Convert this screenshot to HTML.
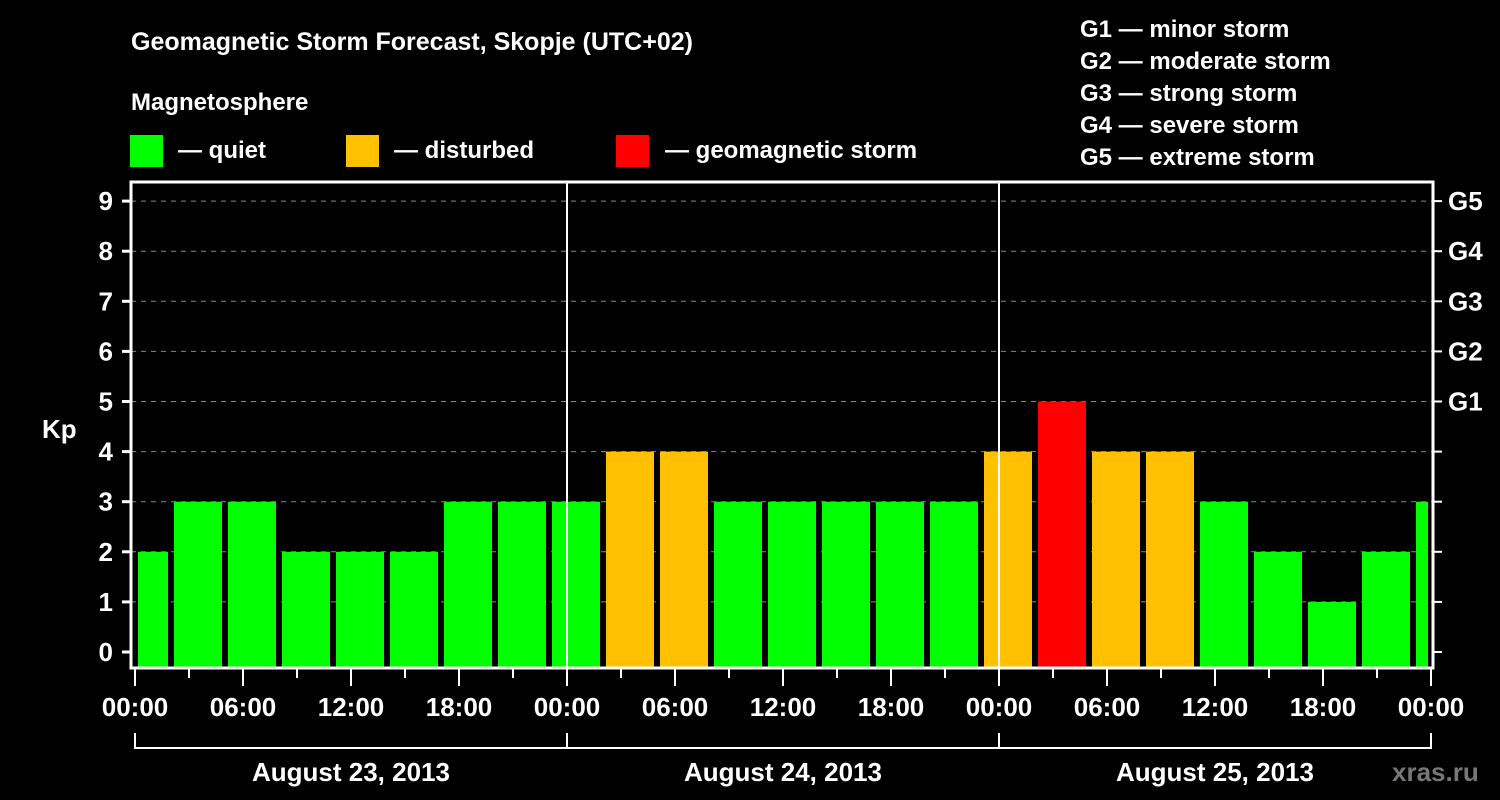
<!DOCTYPE html>
<html><head><meta charset="utf-8"><style>
body{margin:0;background:#000;width:1500px;height:800px;overflow:hidden}
svg{display:block;font-family:"Liberation Sans",sans-serif;font-weight:bold;fill:#fff}
</style></head><body>
<svg id="c" width="1500" height="800" viewBox="0 0 1500 800">
<rect width="1500" height="800" fill="#000"/>
<text x="131" y="50" font-size="25">Geomagnetic Storm Forecast, Skopje (UTC+02)</text>
<text x="131" y="110" font-size="24">Magnetosphere</text>
<g><rect x="130" y="135" width="33" height="32" fill="#00ff00"/><text x="178" y="158" font-size="24">— quiet</text></g>
<g><rect x="346" y="135" width="33" height="32" fill="#ffc000"/><text x="394" y="158" font-size="24">— disturbed</text></g>
<g><rect x="616" y="135" width="33" height="32" fill="#ff0000"/><text x="665" y="158" font-size="24">— geomagnetic storm</text></g>
<g font-size="24">
<text x="1080" y="37">G1 — minor storm</text>
<text x="1080" y="69">G2 — moderate storm</text>
<text x="1080" y="101">G3 — strong storm</text>
<text x="1080" y="133">G4 — severe storm</text>
<text x="1080" y="165">G5 — extreme storm</text>
</g>
<text x="42" y="438" font-size="26">Kp</text>
<text x="1392" y="781" font-size="26" fill="#777" style="fill:#777">xras.ru</text>
<g id="plot"></g>
</svg>
<script>
const kpValues=[2,3,3,2,2,2,3,3,3,4,4,3,3,3,3,3,4,5,4,4,3,2,1,2,3];
const barStartHours=[-1,2,5,8,11,14,17,20,23,26,29,32,35,38,41,44,47,50,53,56,59,62,65,68,71];
const yTicks=[0,1,2,3,4,5,6,7,8,9];
const gLabels=["G1","G2","G3","G4","G5"];
const timeLabels=["00:00","06:00","12:00","18:00","00:00","06:00","12:00","18:00","00:00","06:00","12:00","18:00","00:00"];
const dateLabels=["August 23, 2013","August 24, 2013","August 25, 2013"];
const NS="http://www.w3.org/2000/svg";
const L=131,R=1433,T=182,B=668;
const X=h=>135+h*18;
const Y=v=>652-v*50.1;
const g=document.getElementById('plot');
function mk(t,a,p){const e=document.createElementNS(NS,t);for(const k in a)e.setAttribute(k,a[k]);(p||g).appendChild(e);return e;}
function col(v){return v>=5?'#ff0000':v>=4?'#ffc000':'#00ff00';}
yTicks.forEach(v=>{if(v>0){const l=mk('line',{x1:L,x2:R,y1:Y(v),y2:Y(v),stroke:'#888','stroke-dasharray':'5,5'});

}});
barStartHours.forEach((s,i)=>{const x0=Math.max(X(s),X(0))+3,x1=Math.min(X(s+3),X(72))-3;
const r=mk('rect',{x:x0,y:Y(kpValues[i]),width:x1-x0,height:B-Y(kpValues[i]),fill:col(kpValues[i])});

});
[24,48].forEach(h=>{const l=mk('line',{x1:X(h),x2:X(h),y1:T,y2:B,stroke:'#fff','stroke-width':2});

});
const fr=mk('rect',{x:L,y:T,width:R-L,height:B-T,fill:'none',stroke:'#fff','stroke-width':3});


yTicks.forEach(v=>{mk('line',{x1:L-9,x2:L,y1:Y(v),y2:Y(v),stroke:'#fff','stroke-width':3});
mk('line',{x1:R,x2:R+9,y1:Y(v),y2:Y(v),stroke:'#fff','stroke-width':2});
const t=mk('text',{x:113,y:Y(v)+9,'text-anchor':'end','font-size':26});t.textContent=v;

});
gLabels.forEach((s,i)=>{const t=mk('text',{x:1448,y:Y(i+5)+9,'font-size':26});t.textContent=s;

});
for(let h=0;h<=72;h+=3){mk('line',{x1:X(h),x2:X(h),y1:B,y2:B+(h%6==0?18:10),stroke:'#fff','stroke-width':2});}
timeLabels.forEach((s,i)=>{const t=mk('text',{x:X(i*6),y:716,'text-anchor':'middle','font-size':26});t.textContent=s;

});
mk('path',{d:`M${X(0)} 733V748H${X(72)}V733M${X(24)} 733V748M${X(48)} 733V748`,fill:'none',stroke:'#fff','stroke-width':2});
dateLabels.forEach((s,i)=>{const t=mk('text',{x:X(i*24+12),y:781,'text-anchor':'middle','font-size':26});t.textContent=s;

});
</script>
</body></html>
